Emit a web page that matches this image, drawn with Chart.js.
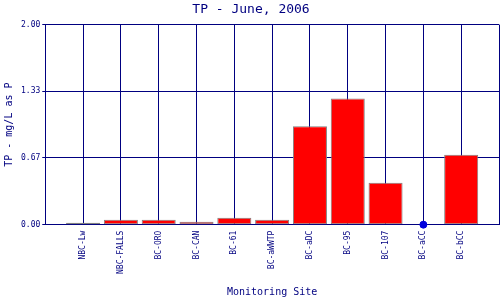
<!DOCTYPE html>
<html>
<head>
<meta charset="utf-8">
<script src="https://cdn.jsdelivr.net/npm/chart.js@4"></script>
<style>
  html, body { margin: 0; padding: 0; background: #fff; overflow: hidden; }
</style>
</head>
<body>
<canvas id="tpChart" width="500" height="300"></canvas>
<script>
const sites = ['', 'NBC-Lw', 'NBC-FALLS', 'BC-ORO', 'BC-CAN', 'BC-61', 'BC-aWWTP', 'BC-aDC', 'BC-95', 'BC-107', 'BC-aCC', 'BC-bCC', ''];
const tpValues = [null, 0.02, 0.05, 0.05, 0.03, 0.07, 0.05, 0.985, 1.26, 0.42, null, 0.70, null];
const zeroPoints = [null, null, null, null, null, null, null, null, null, null, 0, null, null];
const yTickValues = [0, 2 / 3, 4 / 3, 2];
const yTickLabels = ['0.00', '0.67', '1.33', '2.00'];

const navy = '#000080';
const mono = 'DejaVu Sans Mono';

const ctx = document.getElementById('tpChart').getContext('2d');
new Chart(ctx, {
  type: 'bar',
  data: {
    labels: sites,
    datasets: [
      {
        label: 'TP',
        data: tpValues,
        backgroundColor: '#ff0000',
        borderColor: '#808080',
        borderWidth: 1,
        borderSkipped: false,
        categoryPercentage: 1,
        barPercentage: 0.9
      },
      {
        type: 'line',
        label: 'zero',
        data: zeroPoints,
        showLine: false,
        pointRadius: 3.5,
        pointHoverRadius: 3.5,
        pointBackgroundColor: '#0000dd',
        pointBorderColor: '#0000dd',
        clip: false
      }
    ]
  },
  options: {
    responsive: false,
    animation: false,
    layout: { autoPadding: false, padding: { left: 3, right: 1, top: 0, bottom: 2 } },
    plugins: {
      legend: { display: false },
      tooltip: { enabled: false },
      title: {
        display: true,
        text: 'TP - June, 2006',
        color: navy,
        font: { family: mono, size: 13, weight: 'normal' },
        padding: { top: 2, bottom: 7 }
      }
    },
    scales: {
      x: {
        offset: false,
        afterFit: (axis) => {
          axis.paddingLeft = 0;
          axis.paddingRight = 0;
        },
        grid: { color: navy, lineWidth: 1, drawTicks: false, offset: false },
        border: { color: navy, width: 1 },
        ticks: {
          color: navy,
          font: { family: mono, size: 8 },
          minRotation: 90,
          maxRotation: 90,
          autoSkip: false,
          padding: 6
        },
        title: {
          display: true,
          text: 'Monitoring Site',
          color: navy,
          font: { family: mono, size: 10 },
          padding: { top: 6, bottom: 0 }
        }
      },
      y: {
        min: 0,
        max: 2,
        afterBuildTicks: (axis) => {
          axis.ticks = yTickValues.map(v => ({ value: v }));
        },
        grid: { color: navy, lineWidth: 1, tickLength: 3 },
        border: { color: navy, width: 1 },
        ticks: {
          color: navy,
          font: { family: mono, size: 8 },
          padding: 2,
          callback: (value, index) => yTickLabels[index]
        },
        title: {
          display: true,
          text: 'TP - mg/L as P',
          color: navy,
          font: { family: mono, size: 10 },
          padding: { top: 0, bottom: 4 }
        }
      }
    }
  }
});
</script>
</body>
</html>
